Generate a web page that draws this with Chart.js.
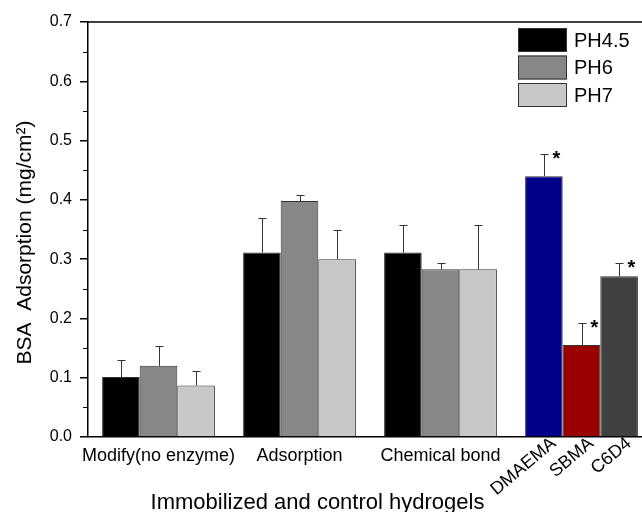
<!DOCTYPE html>
<html>
<head>
<meta charset="utf-8">
<script src="https://cdn.jsdelivr.net/npm/chart.js@4.4.0/dist/chart.umd.min.js"></script>
<style>
  html, body { margin: 0; padding: 0; overflow: hidden; background: #fff; }
  #wrap { width: 652px; height: 512px; }
</style>
</head>
<body>
<div id="wrap"><canvas id="bsaChart"></canvas></div>
<script>
// control hydrogels, each measured at three pH values
const groups = ['Modify(no enzyme)', 'Adsorption', 'Chemical bond'];
const phNames = ['PH4.5', 'PH6', 'PH7'];
const yTicks = [0, 0.1, 0.2, 0.3, 0.4, 0.5, 0.6, 0.7];

const ph45 = [0.101, 0.311, 0.311];
const ph6 = [0.120, 0.398, 0.283];
const ph7 = [0.087, 0.300, 0.283];
const ph45Err = [0.029, 0.058, 0.046];
const ph6Err = [0.033, 0.011, 0.011];
const ph7Err = [0.025, 0.050, 0.074];

// modified hydrogels, one bar each (all marked *)
const modifiedNames = ['DMAEMA', 'SBMA', 'C6D4'];
const modified = [0.440, 0.155, 0.271];
const modifiedErr = [0.038, 0.037, 0.023];

const phColors = ['#000000', '#878787', '#c8c8c8'];
const modColors = ['#00008b', '#990000', '#404040'];
const FONT = '"Liberation Sans", Arial, sans-serif';
Chart.defaults.font.family = FONT;
Chart.defaults.color = '#000';

const phSeries = [ph45, ph6, ph7];
const phErrs = [ph45Err, ph6Err, ph7Err];

const datasets = [];
phSeries.forEach((vals, i) => {
    datasets.push({
        label: phNames[i],
        data: vals.concat([null]),
        errors: phErrs[i].concat([null]),
        stack: 's' + i,
        backgroundColor: phColors[i],
        borderColor: '#333',
        borderWidth: 1
    });
});
modified.forEach((v, i) => {
    datasets.push({
        label: modifiedNames[i],
        data: [null, null, null, v],
        errors: [null, null, null, modifiedErr[i]],
        stack: 's' + i,
        star: true,
        backgroundColor: modColors[i],
        borderColor: '#333',
        borderWidth: 1
    });
});

const deg = Math.PI / 180;

// error bars + asterisks
const errorBars = {
    id: 'errorBars',
    afterDatasetsDraw(chart) {
        const ctx = chart.ctx;
        const y = chart.scales.y;
        chart.data.datasets.forEach((ds, i) => {
            const meta = chart.getDatasetMeta(i);
            meta.data.forEach((bar, j) => {
                const v = ds.data[j];
                const e = ds.errors[j];
                if (v == null || e == null) return;
                const top = Math.round(y.getPixelForValue(v + e)) + 0.5;
                const x = Math.round(bar.x) + 0.5;
                ctx.save();
                ctx.strokeStyle = '#333';
                ctx.lineWidth = 1;
                ctx.beginPath();
                ctx.moveTo(x, bar.y);
                ctx.lineTo(x, top);
                ctx.moveTo(x - 4, top);
                ctx.lineTo(x + 4, top);
                ctx.stroke();
                if (ds.star) {
                    ctx.fillStyle = '#000';
                    ctx.font = 'bold 20px ' + FONT;
                    ctx.textAlign = 'center';
                    ctx.textBaseline = 'alphabetic';
                    ctx.fillText('*', x + 12, top + 10);
                }
                ctx.restore();
            });
        });
    }
};

// frame, minor ticks, legend, rotated labels, axis titles
const decor = {
    id: 'decor',
    afterDraw(chart) {
        const ctx = chart.ctx;
        const area = chart.chartArea;
        const y = chart.scales.y;
        ctx.save();
        ctx.strokeStyle = '#000';
        ctx.lineWidth = 1.5;
        ctx.beginPath();
        ctx.moveTo(area.left, area.top);
        ctx.lineTo(area.right, area.top);
        ctx.stroke();

        // minor ticks halfway between major ones
        ctx.lineWidth = 1;
        ctx.beginPath();
        for (let k = 0; k < yTicks.length - 1; k++) {
            const py = Math.round(y.getPixelForValue((yTicks[k] + yTicks[k + 1]) / 2)) + 0.5;
            ctx.moveTo(area.left - 5, py);
            ctx.lineTo(area.left, py);
        }
        ctx.stroke();

        // legend
        const lx = area.right - 134;
        const ly = area.top + 6;
        ctx.font = '20px ' + FONT;
        ctx.textAlign = 'left';
        ctx.textBaseline = 'middle';
        for (let k = 0; k < phNames.length; k++) {
            const by = ly + k * 27.5;
            ctx.fillStyle = phColors[k];
            ctx.fillRect(lx, by, 49, 24);
            ctx.strokeStyle = '#333';
            ctx.lineWidth = 1;
            ctx.strokeRect(lx + 0.5, by + 0.5, 48, 23);
            ctx.fillStyle = '#000';
            ctx.fillText(phNames[k], lx + 56, by + 13);
        }

        // rotated names under the modified bars
        ctx.font = '18px ' + FONT;
        ctx.textAlign = 'right';
        ctx.textBaseline = 'alphabetic';
        modifiedNames.forEach((name, k) => {
            const bar = chart.getDatasetMeta(phNames.length + k).data[groups.length];
            ctx.save();
            ctx.translate(bar.x + 13, area.bottom + 8);
            ctx.rotate(-40 * deg);
            ctx.fillText(name, 0, 0);
            ctx.restore();
        });

        // axis titles
        ctx.textAlign = 'center';
        ctx.font = '22px ' + FONT;
        ctx.fillText('Immobilized and control hydrogels', 317.5, 509);
        ctx.save();
        ctx.translate(25, 242.5);
        ctx.rotate(-90 * deg);
        ctx.font = '21px ' + FONT;
        ctx.textBaseline = 'middle';
        ctx.fillText('BSA  Adsorption (mg/cm\u00B2)', 0, 0);
        ctx.restore();
        ctx.restore();
    }
};

new Chart(document.getElementById('bsaChart'), {
    type: 'bar',
    data: {
        labels: groups.concat(['']),
        datasets: datasets
    },
    options: {
        responsive: true,
        maintainAspectRatio: false,
        animation: false,
        categoryPercentage: 0.8,
        barPercentage: 1.0,
        layout: { padding: { top: 22, left: 0, right: 0, bottom: 0 } },
        plugins: {
            legend: { display: false },
            tooltip: { enabled: false }
        },
        scales: {
            x: {
                grid: { display: false, drawTicks: false },
                border: { color: '#000', width: 1.5 },
                ticks: { font: { size: 18 }, padding: 8, maxRotation: 0, autoSkip: false },
                afterFit: s => { s.height = 75; }
            },
            y: {
                min: 0,
                max: 0.7,
                grid: { drawOnChartArea: false, drawTicks: true, tickLength: 8, color: '#000', lineWidth: 1.5 },
                border: { color: '#000', width: 1.5 },
                ticks: { font: { size: 16 }, padding: 8, callback: v => v.toFixed(1) },
                afterBuildTicks: s => { s.ticks = yTicks.map(v => ({ value: v })); },
                afterFit: s => { s.width = 88; }
            }
        }
    },
    plugins: [errorBars, decor]
});
</script>
</body>
</html>
